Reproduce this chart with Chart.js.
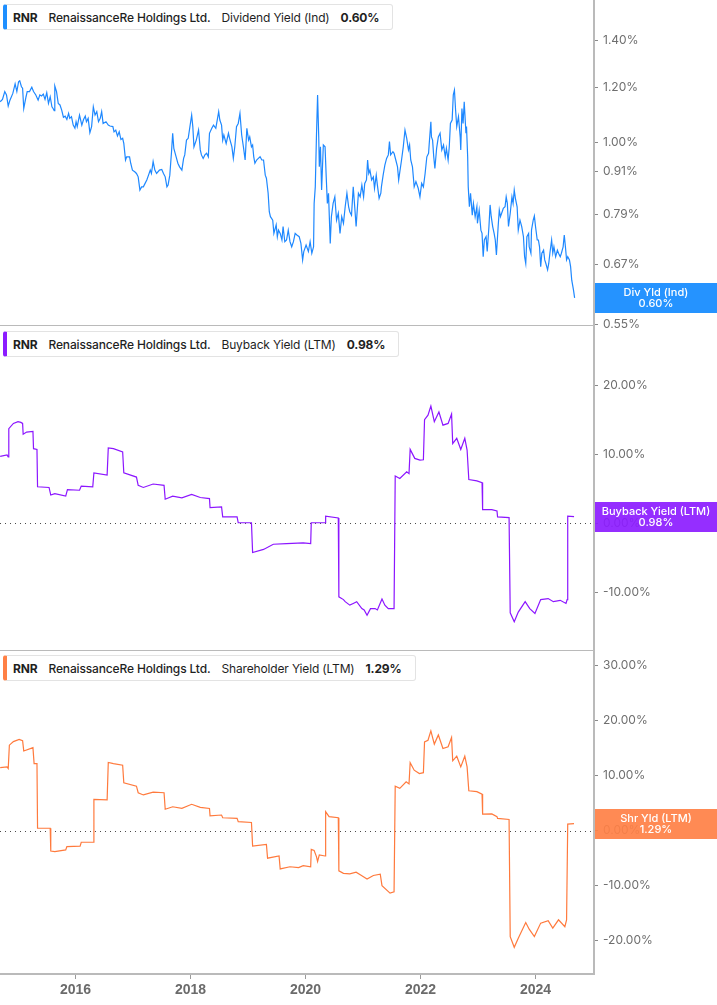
<!DOCTYPE html>
<html>
<head>
<meta charset="utf-8">
<script src="https://cdn.jsdelivr.net/npm/chart.js@4/dist/chart.umd.min.js"></script>
<style>
html,body{margin:0;padding:0;background:#fff;}
#wrap{position:relative;width:717px;height:1005px;overflow:hidden;background:#fff;}
canvas{position:absolute;left:0;}
.legend{position:absolute;left:3px;height:26px;box-sizing:border-box;border:1px solid #e3e3e3;border-left:4px solid;border-radius:3px;background:#fff;
  font-family:Inter,"Liberation Sans",sans-serif;font-size:12px;color:#1f1f1f;display:flex;align-items:center;gap:11px;padding:0 13px 0 6px;white-space:nowrap;z-index:10;letter-spacing:-0.15px;}
.legend .b{font-weight:700;}
.legend .co{font-weight:500;}
.vbox{position:absolute;left:595px;width:122px;height:30px;box-sizing:border-box;color:#fff;font-family:Inter,"Liberation Sans",sans-serif;font-weight:500;font-size:11px;
  text-align:center;line-height:11px;padding-top:4px;z-index:10;}
</style>
</head>
<body>
<div id="wrap">
  <canvas id="c1" width="717" height="340" style="top:0;z-index:3"></canvas>
  <canvas id="c2" width="717" height="340" style="top:325px;z-index:2"></canvas>
  <canvas id="c3" width="717" height="355" style="top:650px;z-index:1"></canvas>

  <div class="legend" style="top:4px;border-left-color:#1e8fff"><span class="b">RNR</span><span class="co">RenaissanceRe Holdings Ltd.</span><span>Dividend Yield (Ind)</span><span class="b">0.60%</span></div>
  <div class="legend" style="top:331px;border-left-color:#8c1cff"><span class="b">RNR</span><span class="co">RenaissanceRe Holdings Ltd.</span><span>Buyback Yield (LTM)</span><span class="b">0.98%</span></div>
  <div class="legend" style="top:655px;border-left-color:#ff8045"><span class="b">RNR</span><span class="co">RenaissanceRe Holdings Ltd.</span><span>Shareholder Yield (LTM)</span><span class="b">1.29%</span></div>

  <div class="vbox" id="v1" style="background:rgba(30,143,255,0.97)">Div Yld (Ind)<br>0.60%</div>
  <div class="vbox" id="v2" style="background:rgba(140,28,255,0.92)">Buyback Yield (LTM)<br>0.98%</div>
  <div class="vbox" id="v3" style="background:rgba(255,128,69,0.92)">Shr Yld (LTM)<br>1.29%</div>
</div>
<script>
// ---------- DATA ----------
const divDates = [
2014.69,2014.73,2014.77,2014.80,2014.83,2014.86,2014.91,2014.95,2014.98,2015.01,2015.03,2015.06,2015.08,2015.10,2015.14,2015.16,2015.20,2015.24,2015.27,2015.31,
2015.35,2015.38,2015.41,2015.44,2015.47,2015.50,2015.53,2015.56,2015.59,2015.61,2015.63,2015.64,2015.67,2015.70,2015.73,2015.76,2015.79,2015.82,2015.85,2015.88,
2015.90,2015.93,2015.96,2015.99,2016.01,2016.03,2016.07,2016.11,2016.14,2016.17,2016.19,2016.22,2016.25,2016.28,2016.31,2016.34,2016.37,2016.40,2016.43,2016.455,
2016.48,2016.53,2016.57,2016.60,2016.65,2016.67,2016.70,2016.73,2016.76,2016.79,2016.82,2016.84,2016.87,2016.89,2016.94,2016.96,2016.99,2017.03,2017.06,2017.09,
2017.12,2017.15,2017.18,2017.21,2017.24,2017.27,2017.30,2017.32,2017.35,2017.38,2017.41,2017.46,2017.50,2017.53,2017.56,2017.59,2017.61,2017.64,2017.67,2017.69,
2017.71,2017.75,2017.78,2017.81,2017.85,2017.88,2017.90,2017.93,2017.96,2017.99,2018.02,2018.04,2018.06,2018.10,2018.14,2018.17,2018.19,2018.22,2018.25,2018.28,
2018.31,2018.33,2018.37,2018.40,2018.44,2018.47,2018.49,2018.51,2018.54,2018.56,2018.58,2018.62,2018.66,2018.68,2018.72,2018.745,2018.77,2018.80,2018.83,2018.86,
2018.89,2018.92,2018.95,2018.98,2019.01,2019.03,2019.06,2019.08,2019.10,2019.12,2019.15,2019.18,2019.21,2019.24,2019.27,2019.30,2019.32,2019.35,2019.37,2019.39,
2019.43,2019.45,2019.49,2019.51,2019.53,2019.56,2019.59,2019.61,2019.64,2019.67,2019.70,
2019.73,2019.76,2019.79,2019.82,2019.85,2019.89,2019.92,2019.95,2019.97,2020.01,2020.05,2020.08,2020.11,2020.14,2020.15,2020.17,2020.19,2020.21,2020.23,2020.24,
2020.26,2020.28,2020.31,2020.34,2020.36,2020.38,2020.40,2020.43,2020.45,2020.48,2020.51,2020.54,2020.57,2020.60,2020.63,2020.66,2020.69,2020.72,2020.75,2020.77,
2020.80,2020.83,2020.86,2020.88,2020.92,2020.95,2020.98,2021.01,2021.03,2021.06,2021.08,2021.10,2021.12,2021.15,2021.18,2021.20,2021.23,2021.25,2021.28,2021.31,
2021.32,2021.35,2021.38,2021.41,2021.44,2021.46,2021.48,2021.52,2021.54,2021.57,2021.60,2021.62,2021.64,2021.67,2021.70,2021.73,2021.76,2021.79,2021.81,2021.83,
2021.86,2021.89,2021.92,2021.96,2021.99,2022.02,2022.05,2022.08,2022.11,2022.14,2022.15,2022.18,2022.19,2022.21,2022.23,2022.25,2022.28,2022.31,2022.34,2022.37,
2022.40,2022.43,2022.45,2022.48,2022.50,2022.52,2022.55,2022.57,2022.59,2022.61,2022.63,2022.66,2022.69,2022.70,2022.72,2022.74,2022.76,2022.79,2022.80,2022.82,
2022.83,2022.85,2022.87,2022.90,2022.92,2022.95,2022.98,2022.99,2023.02,2023.05,2023.07,2023.09,2023.11,2023.14,2023.16,2023.19,2023.21,2023.23,2023.255,2023.28,
2023.30,2023.32,2023.35,2023.37,2023.39,2023.42,2023.44,2023.47,2023.49,2023.51,2023.53,2023.56,2023.59,2023.61,2023.63,2023.65,2023.68,2023.70,2023.73,2023.76,
2023.79,2023.81,2023.83,2023.85,2023.88,2023.89,2023.92,2023.93,2023.96,2023.98,2024.00,2024.03,2024.05,2024.07,2024.09,2024.11,2024.14,2024.16,2024.18,2024.21,
2024.23,2024.25,2024.28,2024.30,2024.32,2024.35,2024.38,2024.40,2024.43,2024.45,2024.48,2024.50,2024.52,2024.54,2024.56,2024.59,2024.61,2024.63,2024.66,2024.68
];
const divYield = [
1.145,1.154,1.184,1.171,1.129,1.151,1.177,1.214,1.184,1.223,1.227,1.203,1.197,1.120,1.164,1.184,1.184,1.201,1.184,1.171,
1.151,1.171,1.167,1.174,1.154,1.180,1.139,1.164,1.126,1.120,1.112,1.206,1.184,1.139,1.133,1.114,1.088,1.092,1.080,1.102,
1.084,1.090,1.060,1.049,1.072,1.055,1.096,1.060,1.080,1.092,1.072,1.084,1.034,1.055,1.126,1.096,1.108,1.072,1.084,1.108,
1.066,1.072,1.060,1.057,1.055,1.037,1.043,1.023,1.037,1.011,1.015,0.998,0.945,0.955,0.955,0.935,0.914,0.909,0.904,0.894,
0.856,0.865,0.865,0.875,0.885,0.899,0.914,0.904,0.940,0.914,0.904,0.914,0.916,0.904,0.894,0.865,0.870,0.899,0.971,1.032,
0.982,0.955,0.935,0.924,0.914,0.950,0.961,1.009,1.015,1.055,1.096,1.055,0.987,1.009,1.043,0.977,0.961,0.950,0.961,0.966,
0.955,1.032,1.049,1.060,1.049,1.084,1.108,1.078,1.060,1.009,1.026,0.998,1.032,1.015,0.987,0.950,0.987,1.055,1.066,1.102,
1.026,0.987,0.945,1.049,1.009,1.020,0.987,0.993,0.955,0.935,0.945,0.950,0.955,0.945,0.945,0.899,0.890,0.847,0.797,0.784,
0.775,0.742,0.763,0.734,0.750,0.742,0.726,0.759,0.722,0.726,0.750,
0.722,0.710,0.722,0.742,0.738,0.734,0.718,0.680,0.699,0.714,0.699,0.722,0.695,0.710,0.819,0.865,1.020,1.171,1.020,0.924,
0.987,0.856,0.993,0.987,0.894,0.819,0.847,0.718,0.784,0.819,0.837,0.775,0.793,0.742,0.784,0.767,0.810,0.847,0.810,0.797,
0.788,0.865,0.801,0.759,0.847,0.837,0.870,0.837,0.875,0.885,0.945,0.904,0.914,0.885,0.894,0.861,0.899,0.870,0.833,0.847,
0.865,0.899,0.929,0.950,0.961,1.004,0.961,0.971,0.966,0.945,0.924,0.885,0.909,0.945,0.987,1.043,1.015,0.977,0.993,0.945,
0.924,0.865,0.880,0.861,0.837,0.875,0.865,0.904,0.955,0.966,0.993,1.072,1.020,1.009,0.955,0.919,0.982,1.020,1.032,0.977,
0.993,0.955,0.982,0.945,0.987,1.066,1.078,1.171,1.190,1.114,1.055,1.090,1.020,0.977,1.120,1.066,1.145,1.032,1.055,0.955,
0.865,0.810,0.847,0.788,0.819,0.784,0.810,0.767,0.801,0.750,0.742,0.687,0.726,0.734,0.699,0.759,0.815,0.784,0.759,0.742,
0.726,0.691,0.759,0.801,0.784,0.797,0.806,0.810,0.837,0.819,0.759,0.793,0.837,0.819,0.856,0.833,0.810,0.750,0.775,0.759,
0.734,0.687,0.672,0.734,0.742,0.710,0.695,0.750,0.775,0.786,0.759,0.726,0.726,0.710,0.665,0.695,0.702,0.680,0.672,0.658,
0.672,0.695,0.726,0.695,0.710,0.687,0.702,0.695,0.687,0.695,0.710,0.738,0.710,0.680,0.687,0.680,0.665,0.636,0.616,0.600
];

const bbDates = [
2014.69,2014.81,2014.83,2014.84,2014.92,2015.00,2015.05,2015.08,2015.09,2015.15,2015.26,2015.27,2015.33,2015.34,2015.54,2015.57,2015.64,2015.83,2015.86,2016.07,
2016.10,2016.30,2016.32,2016.55,2016.57,2016.66,2016.82,2016.84,2017.06,2017.09,2017.18,2017.35,2017.54,2017.56,2017.69,2017.85,2018.02,2018.17,2018.33,2018.34,
2018.54,2018.56,2018.81,2018.83,2019.06,2019.08,2019.27,2019.44,2019.67,2019.96,2020.09,2020.10,2020.34,2020.35,2020.57,2020.58,2020.66,2020.69,2020.77,2020.83,
2020.89,2020.98,2021.02,2021.07,2021.13,2021.21,2021.25,2021.33,2021.38,2021.44,2021.54,2021.56,2021.64,2021.76,2021.80,2021.82,2021.90,2021.99,2022.05,2022.07,
2022.13,2022.18,2022.24,2022.32,2022.39,2022.48,2022.54,2022.56,2022.63,2022.70,2022.77,2022.81,2022.84,2022.98,2023.07,2023.08,2023.24,2023.33,2023.34,2023.54,
2023.56,2023.63,2023.70,2023.82,2023.90,2023.99,2024.09,2024.22,2024.31,2024.43,2024.53,2024.55,2024.56,2024.67
];
const bbYield = [
9.7,9.9,9.6,13.7,14.45,14.7,14.6,14.45,12.9,13.2,13.3,10.8,10.7,5.3,5.2,4.1,4.3,3.95,4.9,4.8,
5.4,5.3,7.3,7.0,10.9,10.8,10.35,7.3,6.7,5.5,5.2,5.7,5.5,3.5,3.95,3.7,4.2,3.75,3.6,2.3,
2.4,0.95,0.95,0.1,0.1,-4.2,-3.75,-3.0,-2.9,-2.8,-2.9,0.1,0.1,1.05,0.8,-10.6,-11.0,-11.3,-11.8,-11.55,
-11.3,-12.3,-12.5,-13.25,-12.3,-12.3,-12.5,-10.9,-11.8,-12.3,-12.3,6.85,6.5,7.45,7.2,10.7,9.4,9.15,9.2,15.0,
15.65,16.95,14.7,16.1,14.2,14.45,15.8,11.55,12.3,10.7,12.3,10.6,6.35,6.15,5.9,2.0,2.0,1.8,0.95,0.85,
-12.9,-14.2,-12.8,-11.3,-12.3,-13.0,-11.0,-10.85,-11.3,-11.1,-11.55,-11.0,1.05,0.98
];

const shDates = [
2014.69,2014.81,2014.83,2014.85,2014.92,2015.02,2015.08,2015.10,2015.26,2015.28,2015.33,2015.34,2015.56,2015.57,2015.64,2015.83,2015.85,2016.08,2016.10,2016.31,
2016.32,2016.55,2016.57,2016.66,2016.82,2016.84,2017.06,2017.09,2017.18,2017.35,2017.54,2017.56,2017.69,2017.85,2018.02,2018.17,2018.33,2018.34,2018.54,2018.56,
2018.81,2018.83,2019.06,2019.08,2019.32,2019.34,2019.54,2019.56,2019.73,2019.88,2019.96,2020.09,2020.10,2020.15,2020.19,2020.21,2020.24,2020.34,2020.35,2020.41,
2020.57,2020.58,2020.66,2020.77,2020.88,2020.98,2021.07,2021.18,2021.30,2021.33,2021.47,2021.54,2021.56,2021.64,2021.75,2021.80,2021.82,2021.89,2021.98,2022.05,
2022.07,2022.13,2022.18,2022.24,2022.31,2022.39,2022.48,2022.54,2022.56,2022.63,2022.70,2022.77,2022.81,2022.84,2022.98,2023.07,2023.08,2023.24,2023.33,2023.34,
2023.54,2023.56,2023.63,2023.70,2023.83,2023.89,2023.98,2024.09,2024.22,2024.30,2024.40,2024.51,2024.54,2024.56,2024.67
];
const shYield = [
11.45,11.6,11.3,15.55,16.2,16.6,16.35,14.5,15.1,12.2,12.2,0.45,0.45,-3.7,-3.8,-3.5,-2.9,-2.8,-2.1,-2.1,
5.7,5.6,12.4,12.2,11.9,8.7,8.1,6.9,6.5,7.0,6.9,3.9,4.35,4.05,4.8,4.25,4.05,2.7,2.85,2.35,
2.25,1.65,1.5,-2.8,-2.5,-5.0,-4.6,-6.95,-6.55,-6.7,-6.35,-6.55,-3.4,-3.6,-4.7,-5.6,-4.4,-4.6,3.45,2.55,
2.35,-7.3,-7.75,-7.85,-7.55,-8.2,-8.8,-8.15,-7.9,-10.0,-11.35,-11.1,8.1,7.7,8.9,8.5,12.35,11.0,10.4,10.55,
16.15,16.45,18.15,15.75,17.4,14.95,15.25,16.95,12.7,13.55,11.6,13.55,11.6,7.25,7.1,6.65,3.0,3.05,2.55,2.25,
2.05,-19.25,-21.2,-19.55,-16.7,-17.9,-19.25,-16.8,-16.35,-17.7,-16.2,-17.45,-16.2,1.2,1.29
];

const xTicks = [2016, 2018, 2020, 2022, 2024];
const divTicks = [0.55, 0.67, 0.79, 0.91, 1.00, 1.20, 1.40];
const bbTicks = [-10, 0, 10, 20];
const shTicks = [-20, -10, 0, 10, 20, 30];

const xRange = [2014.687, 2025.017];
const divRange = [0.5487, 1.601];
const bbRange = [-18.28, 28.67];
const shRange = [-26.05, 32.85];

// ---------- helpers ----------
const pts = (xs, ys) => xs.map((x, i) => ({x: x, y: ys[i]}));
const AXIS_GREY = '#bababa';

const panelLines = {
  id: 'panelLines',
  beforeDatasetsDraw(chart, args, opts) {
    const ctx = chart.ctx, a = chart.chartArea;
    ctx.save();
    if (opts.zero) {
      const y = Math.round(chart.scales.y.getPixelForValue(0)) + 0.5;
      ctx.strokeStyle = '#4a4a4a';
      ctx.lineWidth = 1;
      ctx.setLineDash([1, 4]);
      ctx.beginPath(); ctx.moveTo(a.left, y); ctx.lineTo(a.right, y); ctx.stroke();
      ctx.setLineDash([]);
    }
    if (opts.bottomLine) {
      ctx.strokeStyle = AXIS_GREY;
      ctx.lineWidth = 1;
      ctx.beginPath(); ctx.moveTo(a.left, a.bottom + 0.5); ctx.lineTo(a.right, a.bottom + 0.5); ctx.stroke();
    }
    ctx.restore();
  }
};

function makeChart(id, o) {
  return new Chart(document.getElementById(id), {
    type: 'line',
    data: { datasets: [{ data: pts(o.xs, o.ys), borderColor: o.color, borderWidth: 1.2, pointRadius: 0, tension: 0, fill: false }] },
    options: {
      responsive: false, animation: false, devicePixelRatio: 1,
      layout: { padding: { left: 0, right: 0, top: 0, bottom: o.padBottom } },
      plugins: { legend: { display: false }, tooltip: { enabled: false }, panelLines: { zero: o.zero, bottomLine: o.bottomLine } },
      scales: {
        x: {
          type: 'linear', min: xRange[0], max: xRange[1], display: o.showX,
          afterBuildTicks: s => { s.ticks = xTicks.map(v => ({value: v})); },
          afterFit: s => { s.height = o.showX ? 31 : 0; s.paddingLeft = 0; s.paddingRight = 0; },
          grid: { display: true, drawOnChartArea: false, drawTicks: true, tickLength: 5, color: '#9a9a9a' },
          border: { display: true, color: AXIS_GREY, width: 2 },
          ticks: { color: '#6b6b6b', font: { family: '"Liberation Sans", Arial, sans-serif', size: 14, weight: 'bold' }, padding: 3, maxRotation: 0, autoSkip: false, callback: v => String(v) }
        },
        y: {
          type: o.yType, position: 'right', min: o.yRange[0], max: o.yRange[1],
          afterBuildTicks: s => { s.ticks = o.yTicks.map(v => ({value: v})); },
          afterFit: s => { s.width = 123; s.paddingTop = 0; s.paddingBottom = 0; },
          grid: { display: true, drawOnChartArea: false, drawTicks: true, tickLength: 4, color: '#8a8a8a' },
          border: { display: true, color: AXIS_GREY, width: 2 },
          ticks: { color: '#6e6e6e', font: { family: 'Inter, "Liberation Sans", sans-serif', size: 12 }, padding: 5, autoSkip: false, callback: v => Number(v).toFixed(2) + '%' }
        }
      }
    },
    plugins: [panelLines]
  });
}

const c1 = makeChart('c1', { xs: divDates, ys: divYield, color: '#1e88ff', yType: 'logarithmic', yRange: divRange, yTicks: divTicks, showX: false, padBottom: 15, zero: false, bottomLine: true });
const c2 = makeChart('c2', { xs: bbDates, ys: bbYield, color: '#8c16ff', yType: 'linear', yRange: bbRange, yTicks: bbTicks, showX: false, padBottom: 15, zero: true, bottomLine: true });
const c3 = makeChart('c3', { xs: shDates, ys: shYield, color: '#ff7a3d', yType: 'linear', yRange: shRange, yTicks: shTicks, showX: true, padBottom: 0, zero: true, bottomLine: false });

function placeBox(id, chart, top, last) {
  const py = chart.scales.y.getPixelForValue(last);
  document.getElementById(id).style.top = (top + py - 15) + 'px';
}
placeBox('v1', c1, 0, divYield[divYield.length - 1]);
placeBox('v2', c2, 325, bbYield[bbYield.length - 1]);
placeBox('v3', c3, 650, shYield[shYield.length - 1]);
</script>
</body>
</html>
